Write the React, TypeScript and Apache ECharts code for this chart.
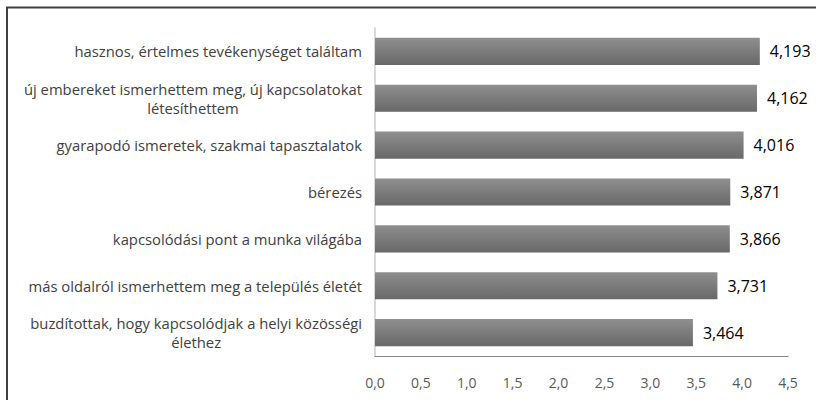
import React, { useEffect, useRef } from "react";
import * as echarts from "echarts";

const categories: string[] = [
  "hasznos, értelmes tevékenységet találtam",
  "új embereket ismerhettem meg, új kapcsolatokat\nlétesíthettem",
  "gyarapodó ismeretek, szakmai tapasztalatok",
  "bérezés",
  "kapcsolódási pont a munka világába",
  "más oldalról ismerhettem meg a település életét",
  "buzdítottak, hogy kapcsolódjak a helyi közösségi\nélethez",
];
const values: number[] = [4.193, 4.162, 4.016, 3.871, 3.866, 3.731, 3.464];
const axisMin = 0;
const axisMax = 4.5;
const axisStep = 0.5;

const fmt = (v: number, d: number) => v.toFixed(d).replace(".", ",");

export default function App() {
  const ref = useRef<HTMLDivElement>(null);
  useEffect(() => {
    if (!ref.current) return;
    const chart = echarts.init(ref.current, null, { renderer: "svg" });
    const font = "Open Sans";
    const catSize = 14.8;
    chart.setOption({
      animation: false,
      backgroundColor: "#ffffff",
      graphic: [
        {
          type: "rect",
          shape: { x: 7, y: 7.5, width: 900, height: 500 },
          style: { fill: "none", stroke: "#404040", lineWidth: 2 },
          silent: true,
        },
      ],
      grid: { left: 375, right: 28, top: 28, bottom: 44, containLabel: false },
      xAxis: {
        type: "value",
        min: axisMin,
        max: axisMax,
        interval: axisStep,
        axisLine: { show: true, lineStyle: { color: "#878787", width: 1 } },
        axisTick: { show: false },
        splitLine: { show: false },
        axisLabel: {
          color: "#595959",
          fontFamily: font,
          fontSize: 14,
          margin: 19,
          formatter: (v: number) => fmt(v, 1),
        },
      },
      yAxis: {
        type: "category",
        data: categories,
        inverse: true,
        axisLine: { show: true, lineStyle: { color: "#d9d9d9", width: 2 } },
        axisTick: { show: false },
        axisLabel: {
          color: "#404040",
          fontFamily: font,
          fontSize: catSize,
          margin: 13,
          lineHeight: 19,
          formatter: (v: string) =>
            v
              .split("\n")
              .map((l) => "{c|" + l + "}")
              .join("\n"),
          rich: {
            c: {
              align: "center",
              color: "#404040",
              fontFamily: font,
              fontSize: catSize,
              lineHeight: 19,
            },
          },
        },
      },
      series: [
        {
          type: "bar",
          data: values,
          barCategoryGap: "42%",
          itemStyle: {
            color: new echarts.graphic.LinearGradient(0, 0, 0, 1, [
              { offset: 0, color: "#8f8f8f" },
              { offset: 1, color: "#686868" },
            ]),
          },
          label: {
            show: true,
            position: "right",
            distance: 10,
            color: "#000000",
            fontFamily: font,
            fontSize: 16,
            formatter: (p: any) => fmt(p.value, 3),
          },
        },
      ],
    });
    return () => chart.dispose();
  }, []);
  return (
    <div
      ref={ref}
      style={{ position: "fixed", left: 0, top: 0, width: 816, height: 400 }}
    />
  );
}
